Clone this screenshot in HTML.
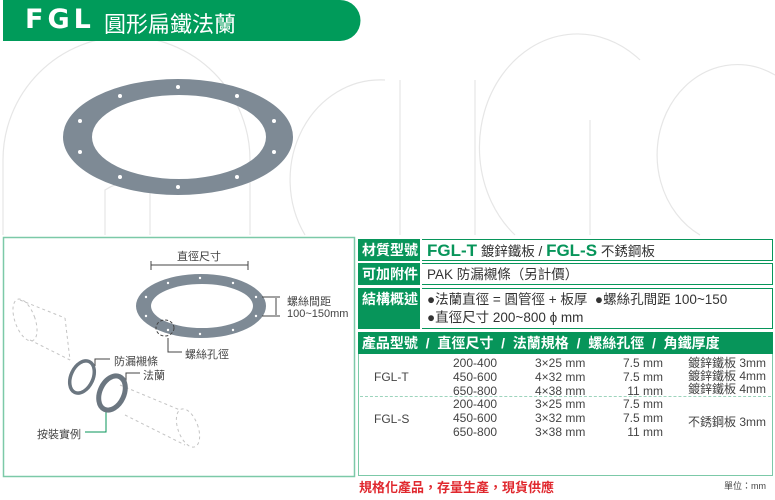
<!DOCTYPE html>
<html><head><meta charset="utf-8"><style>
body{margin:0;width:775px;height:500px;background:#fff;position:relative;overflow:hidden;font-family:"Liberation Sans","Noto Sans CJK TC",sans-serif;color:#333}
.a{position:absolute}
.lab{position:absolute;left:358px;width:62px;background:#07955a;color:#fff;font-size:14px;font-weight:bold;padding-left:4px;box-sizing:border-box}
.val{position:absolute;left:422px;width:351px;background:#fff;font-size:13.5px;color:#333;padding-left:5px;box-sizing:border-box}
.row{position:absolute;left:358px;width:415px;background:#07955a}
.t{position:absolute;font-size:12px;color:#444;white-space:nowrap}
</style></head><body>
<svg class="a" style="left:0;top:0" width="775" height="500">
 <g fill="none" stroke="#e6e6e6" stroke-width="1.2">
  <path d="M3 235 V160 A85 85 0 0 1 250 160 V235"/>
  <path d="M105 235 V190 A50 50 0 0 1 150 185 V235"/>
  <path d="M305 235 A90 100 0 0 1 385 80"/>
  <path d="M400 235 V80 M475 235 V80"/>
  <path d="M515 235 A95 110 0 0 1 640 60 M590 235 V120"/>
  <path d="M700 235 A80 90 0 0 1 775 75"/>
 </g>
 <path d="M3 0 H340 A20 20 0 0 1 340 41 H3 Z" fill="#009b5a"/>
 <path fill-rule="evenodd" fill="#7e8a95" d="M63 137 a115 58 0 1 0 230 0 a115 58 0 1 0 -230 0 Z M92 137 a87 42 0 1 0 174 0 a87 42 0 1 0 -174 0 Z"/>
 <g fill="#fff">
  <circle cx="178" cy="87" r="2"/><circle cx="120" cy="96" r="2"/><circle cx="237" cy="96" r="2"/>
  <circle cx="80" cy="121" r="2"/><circle cx="274" cy="121" r="2"/><circle cx="80" cy="152" r="2"/><circle cx="274" cy="152" r="2"/>
  <circle cx="120" cy="177" r="2"/><circle cx="237" cy="177" r="2"/><circle cx="178" cy="187" r="2"/>
 </g>
 <rect x="3.5" y="237.5" width="351" height="239" fill="none" stroke="#7cc9a8" stroke-width="1.5"/>
 <path fill-rule="evenodd" fill="#7e8a95" d="M136 306 a65 32 0 1 0 130 0 a65 32 0 1 0 -130 0 Z M151 306 a51 22 0 1 0 102 0 a51 22 0 1 0 -102 0 Z"/>
 <g fill="#fff"><circle cx="200" cy="278" r="1.2"/><circle cx="168" cy="283" r="1.2"/><circle cx="233" cy="283" r="1.2"/><circle cx="146" cy="297" r="1.2"/><circle cx="256" cy="297" r="1.2"/><circle cx="146" cy="316" r="1.2"/><circle cx="256" cy="316" r="1.2"/><circle cx="168" cy="330" r="1.2"/><circle cx="233" cy="330" r="1.2"/><circle cx="200" cy="334" r="1.2"/></g>
 <g stroke="#444" fill="none" stroke-width="1">
  <path d="M151 261 V270 M248 261 V270 M151 265 H248"/>
  <path d="M262 297 H280 M262 316 H280 M276 298 V315"/>
  <ellipse cx="165" cy="328" rx="9" ry="8" stroke-dasharray="3 2"/>
  <path d="M168 338 V352 H182"/>
  <path d="M95 366 V359 H110"/>
  <path d="M126 382 V373 H140"/>
 </g>
 <path d="M106 412 V432 H85" stroke="#07955a" fill="none"/>
 <g fill="none" stroke="#c4c4c4" stroke-dasharray="3 3">
  <ellipse cx="25" cy="320" rx="10" ry="22" transform="rotate(-20 25 320)"/>
  <path d="M20 300 L65 318 M30 340 L70 360 M65 318 L70 360"/>
  <path d="M120 385 L180 410 M125 415 L185 445"/>
  <ellipse cx="188" cy="428" rx="10" ry="20" transform="rotate(-20 188 428)"/>
 </g>
 <ellipse cx="82" cy="377" rx="11" ry="17" transform="rotate(25 82 377)" fill="none" stroke="#6b7680" stroke-width="3.5"/>
 <ellipse cx="112" cy="393" rx="12" ry="18" transform="rotate(25 112 393)" fill="none" stroke="#6b7680" stroke-width="5"/>
</svg>
<div class="a" style="left:25px;top:4px;color:#fff;font-size:27px;font-weight:bold;letter-spacing:4px;font-family:'DejaVu Sans',sans-serif">FGL</div>
<div class="a" style="left:104px;top:7px;color:#fff;font-size:22px">圓形扁鐵法蘭</div>
<div class="t" style="left:177px;top:248px;font-size:11px">直徑尺寸</div>
<div class="t" style="left:287px;top:293px;font-size:11px">螺絲間距</div>
<div class="t" style="left:287px;top:308px;font-size:11px">100~150mm</div>
<div class="t" style="left:185px;top:346px;font-size:11px">螺絲孔徑</div>
<div class="t" style="left:114px;top:353px;font-size:11px">防漏襯條</div>
<div class="t" style="left:143px;top:367px;font-size:11px">法蘭</div>
<div class="t" style="left:37px;top:426px;font-size:11px">按裝實例</div>

<div class="lab" style="top:239px;height:22px;line-height:22px">材質型號</div>
<div class="val" style="top:239px;height:22px;line-height:22px;border:1px solid #07955a;border-left:0"><b style="color:#07955a;font-size:17px">FGL-T</b> 鍍鋅鐵板 / <b style="color:#07955a;font-size:17px">FGL-S</b> 不銹鋼板</div>
<div class="lab" style="top:263px;height:22px;line-height:22px">可加附件</div>
<div class="val" style="top:263px;height:22px;line-height:22px;border:1px solid #07955a;border-left:0">PAK 防漏襯條（另計價）</div>
<div class="lab" style="top:288px;height:41px;line-height:22px">結構概述</div>
<div class="val" style="top:288px;height:41px;line-height:18px;padding-top:2px;border:1px solid #07955a;border-left:0">●法蘭直徑 = 圓管徑 + 板厚 &nbsp;●螺絲孔間距 100~150<br>●直徑尺寸 200~800 ϕ mm</div>
<div class="row" style="top:332px;height:22px;line-height:22px;color:#fff;font-size:14px;font-weight:bold;white-space:nowrap">&nbsp;產品型號 &nbsp;/ &nbsp;直徑尺寸 &nbsp;/ &nbsp;法蘭規格 &nbsp;/ &nbsp;螺絲孔徑 &nbsp;/ &nbsp;角鐵厚度</div>
<div class="a" style="left:358px;top:354px;width:413px;height:121px;border:1px solid #7cc9a8;border-top:0"></div>
<div class="a" style="left:360px;top:396px;width:411px;border-top:1px dashed #9cd4bc"></div>
<div class="t" style="left:374px;top:370px">FGL-T</div>
<div class="t" style="left:374px;top:412px">FGL-S</div>
<div class="t" style="left:453px;top:357px;line-height:13.8px">200-400<br>450-600<br>650-800<br>200-400<br>450-600<br>650-800</div>
<div class="t" style="left:535px;top:357px;line-height:13.8px">3×25 mm<br>4×32 mm<br>4×38 mm<br>3×25 mm<br>3×32 mm<br>3×38 mm</div>
<div class="t" style="left:618px;top:357px;line-height:13.8px;text-align:right;width:45px">7.5 mm<br>7.5 mm<br>11 mm<br>7.5 mm<br>7.5 mm<br>11 mm</div>
<div class="t" style="left:688px;top:357px;line-height:13px">鍍鋅鐵板 3mm<br>鍍鋅鐵板 4mm<br>鍍鋅鐵板 4mm</div>
<div class="t" style="left:688px;top:413px">不銹鋼板 3mm</div>
<div class="a" style="left:359px;top:477px;color:#e0282e;font-size:13px;font-weight:bold">規格化產品，存量生產，現貨供應</div>
<div class="a" style="left:724px;top:479px;font-size:9px;color:#444">單位：mm</div>
</body></html>
